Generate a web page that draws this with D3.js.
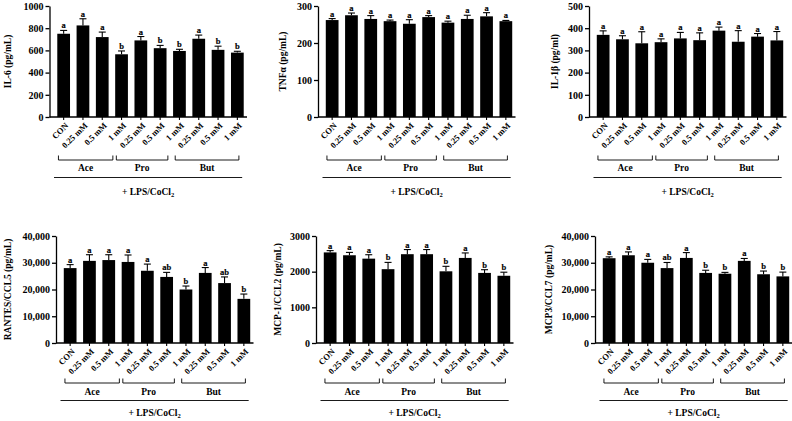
<!DOCTYPE html>
<html>
<head>
<meta charset="utf-8">
<script src="https://cdn.jsdelivr.net/npm/d3@7"></script>
<style>
	body { margin: 0; background: #fff; }
	svg { display: block; }
	text { font-family: "Liberation Serif", "Times New Roman", serif; font-weight: bold; fill: #000; }
</style>
</head>
<body>
<svg id="chart"></svg>
<script>
/*
	Data
*/
const doses = ['CON', '0.25 mM', '0.5 mM', '1 mM', '0.25 mM', '0.5 mM', '1 mM', '0.25 mM', '0.5 mM', '1 mM']
const acids = ['Ace', 'Pro', 'But']
const acidSpan = [[-0.27, 2.55], [2.73, 5.4], [5.78, 9.08]] //bracket ends, in bar steps from the first bar
const treatment = '+ LPS/CoCl'

const il6Mean = [750, 825, 720, 565, 690, 620, 595, 705, 605, 580]
const il6Err = [30, 60, 45, 30, 35, 25, 15, 33, 33, 12]
const il6Sig = ['a', 'a', 'a', 'b', 'a', 'b', 'b', 'a', 'b', 'b']

const tnfMean = [262, 275, 265, 259, 252, 270, 255, 265, 272, 259]
const tnfErr = [4, 6, 9, 3, 11, 4, 4, 10, 10, 2]
const tnfSig = ['a', 'a', 'a', 'a', 'a', 'a', 'a', 'a', 'a', 'a']

const il1bMean = [370, 350, 332, 337, 354, 346, 389, 339, 362, 345]
const il1bErr = [18, 16, 52, 15, 27, 33, 16, 50, 14, 40]
const il1bSig = ['a', 'a', 'a', 'a', 'a', 'a', 'a', 'a', 'a', 'a']

const rantesMean = [28000, 30700, 31000, 30300, 27000, 24700, 20000, 26200, 22400, 16500]
const rantesErr = [1300, 2300, 2000, 2600, 2500, 1700, 1300, 2000, 2300, 1800]
const rantesSig = ['a', 'a', 'a', 'a', 'a', 'ab', 'b', 'a', 'ab', 'b']

const mcp1Mean = [2540, 2460, 2365, 2070, 2490, 2490, 2010, 2385, 1965, 1885]
const mcp1Err = [50, 80, 110, 190, 130, 130, 140, 140, 90, 100]
const mcp1Sig = ['a', 'a', 'a', 'b', 'a', 'a', 'b', 'a', 'b', 'b']

const mcp3Mean = [31700, 32800, 30000, 28000, 31800, 26200, 25900, 30700, 25700, 24900]
const mcp3Err = [500, 1250, 1250, 2100, 2000, 1000, 500, 900, 1200, 1600]
const mcp3Sig = ['a', 'a', 'a', 'ab', 'a', 'b', 'b', 'a', 'b', 'b']

/*
	Layout
*/
const [width, height] = [792, 421]
const barStep = 19.3
const rows = [
	{top: 6, bottom: 117, bracket: 43, group: 53.5, line: 60.5, lps: 78},
	{top: 236, bottom: 343, bracket: 40, group: 52, line: 57.5, lps: 73}
]
const fmtPlain = d3.format('d')
const fmtComma = d3.format(',')

const panels = [
	{label: 'IL-6 (pg/mL)', mean: il6Mean, err: il6Err, sig: il6Sig, max: 1000, step: 200, fmt: fmtPlain, left: 49.5, labelX: 7, row: 0},
	{label: 'TNFα (pg/mL)', mean: tnfMean, err: tnfErr, sig: tnfSig, max: 300, step: 100, fmt: fmtPlain, left: 318, labelX: 282, row: 0},
	{label: 'IL-1β (pg/ml)', mean: il1bMean, err: il1bErr, sig: il1bSig, max: 500, step: 100, fmt: fmtPlain, left: 589, labelX: 554, row: 0},
	{label: 'RANTES/CCL5  (pg/mL)', mean: rantesMean, err: rantesErr, sig: rantesSig, max: 40000, step: 10000, fmt: fmtComma, left: 56, labelX: 7, row: 1},
	{label: 'MCP-1/CCL2  (pg/mL)', mean: mcp1Mean, err: mcp1Err, sig: mcp1Sig, max: 3000, step: 1000, fmt: fmtPlain, left: 316, labelX: 277, row: 1},
	{label: 'MCP3/CCL7 (pg/mL)', mean: mcp3Mean, err: mcp3Err, sig: mcp3Sig, max: 40000, step: 10000, fmt: fmtComma, left: 595, labelX: 548, row: 1}
]

const svg = d3.select('#chart').attr('width', width).attr('height', height)

function drawPanel(p) {
	const r = rows[p.row]
	const x0 = p.left + 4.5
	const x = d3.scaleBand().domain(d3.range(doses.length)).range([x0, x0 + barStep * doses.length]).paddingInner(0.34).paddingOuter(0.17)
	const y = d3.scaleLinear().domain([0, p.max]).range([r.bottom, r.top])
	const g = svg.append('g')
	const cx = i => x(i) + x.bandwidth() / 2
	const stepX = v => cx(0) + v * x.step() //fractional bar position -> pixels

	//y axis
	const yAxis = d3.axisLeft(y).tickValues(d3.range(0, p.max + 1, p.step)).tickFormat(p.fmt).tickSize(4).tickSizeOuter(0).tickPadding(2)
	const ya = g.append('g').attr('transform', `translate(${p.left},0)`).call(yAxis)
	ya.selectAll('text').attr('fill', '#000').style('font-size', '10px')
	ya.selectAll('path, line').attr('stroke', '#000').attr('stroke-width', 1.3)

	//bars
	g.selectAll('.bar').data(p.mean).enter().append('rect')
		.attr('x', (d, i) => x(i)).attr('width', x.bandwidth())
		.attr('y', d => y(d)).attr('height', d => y(0) - y(d))
		.attr('fill', '#000')

	//upper error bars with caps
	const eb = g.selectAll('.err').data(p.mean).enter().append('g')
	eb.append('line')
		.attr('x1', (d, i) => cx(i)).attr('x2', (d, i) => cx(i))
		.attr('y1', d => y(d)).attr('y2', (d, i) => y(d + p.err[i]))
		.attr('stroke', '#000').attr('stroke-width', 1.1)
	eb.append('line')
		.attr('x1', (d, i) => cx(i) - 3.5).attr('x2', (d, i) => cx(i) + 3.5)
		.attr('y1', (d, i) => y(d + p.err[i])).attr('y2', (d, i) => y(d + p.err[i]))
		.attr('stroke', '#000').attr('stroke-width', 1.1)

	//significance letters (thin stroke keeps them plain black at this size)
	g.selectAll('.sig').data(p.mean).enter().append('text')
		.attr('x', (d, i) => cx(i)).attr('y', (d, i) => y(d + p.err[i]) - 2)
		.attr('text-anchor', 'middle').attr('fill', '#000').attr('stroke', '#000').attr('stroke-width', 0.15)
		.style('font-size', '8.5px')
		.text((d, i) => p.sig[i])

	//x axis line and ticks
	g.append('line').attr('x1', p.left).attr('x2', x0 + barStep * doses.length)
		.attr('y1', r.bottom).attr('y2', r.bottom).attr('stroke', '#000').attr('stroke-width', 1.3)
	g.selectAll('.xtick').data(doses).enter().append('line')
		.attr('x1', (d, i) => cx(i)).attr('x2', (d, i) => cx(i))
		.attr('y1', r.bottom).attr('y2', r.bottom + 3).attr('stroke', '#000').attr('stroke-width', 1.1)
	g.selectAll('.xlab').data(doses).enter().append('text')
		.attr('transform', (d, i) => `translate(${cx(i) + 3},${r.bottom + 7}) rotate(-45)`)
		.attr('text-anchor', 'end').attr('dy', '0.35em').attr('fill', '#000').style('font-size', '8.5px')
		.text(d => d)

	//acid brackets
	const by = r.bottom + r.bracket
	acids.forEach((a, k) => {
		const [s, e] = acidSpan[k].map(stepX)
		g.append('path').attr('d', `M${s},${by - 4.5}V${by}H${e}V${by - 4.5}`)
			.attr('fill', 'none').attr('stroke', '#000').attr('stroke-width', 0.9)
		g.append('text').attr('x', (s + e) / 2).attr('y', r.bottom + r.group)
			.attr('text-anchor', 'middle').attr('fill', '#000').style('font-size', '9.5px').text(a)
	})

	//treatment line and label
	const [ls, le] = [stepX(-0.5), stepX(9.25)]
	g.append('line').attr('x1', ls).attr('x2', le).attr('y1', r.bottom + r.line).attr('y2', r.bottom + r.line)
		.attr('stroke', '#000').attr('stroke-width', 0.9)
	const lps = g.append('text').attr('x', (ls + le) / 2).attr('y', r.bottom + r.lps)
		.attr('text-anchor', 'middle').attr('fill', '#000').style('font-size', '9.5px')
	lps.append('tspan').text(treatment)
	lps.append('tspan').attr('dy', '0.3em').style('font-size', '6.5px').text('2')

	//y label
	g.append('text').attr('transform', `translate(${p.labelX + 3.5},${(r.top + r.bottom) / 2}) rotate(-90)`)
		.attr('text-anchor', 'middle').attr('fill', '#000').style('font-size', '9.5px').text(p.label)
}

panels.forEach(drawPanel)
</script>
</body>
</html>
